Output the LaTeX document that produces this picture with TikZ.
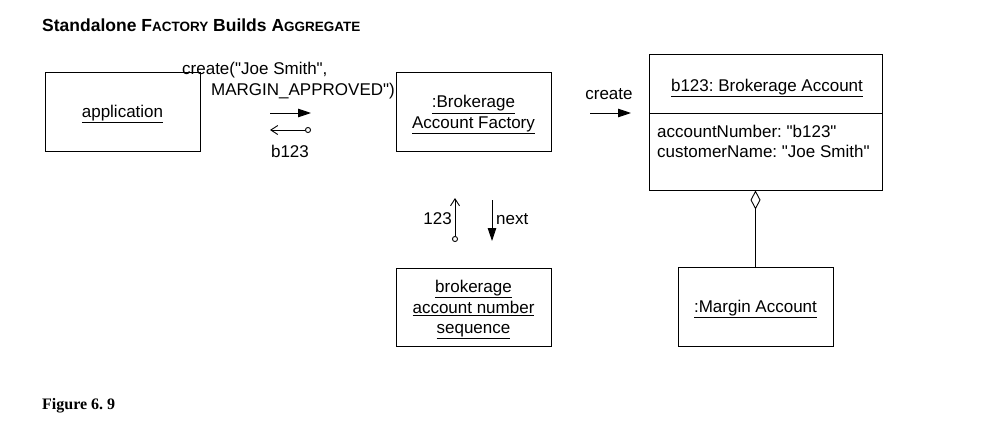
\documentclass[tikz,border=0pt]{standalone}
\usepackage{fontspec}
\setmainfont{Liberation Sans}[Ligatures=TeXOff]
\newfontfamily\serifbold{Liberation Serif}
\usetikzlibrary{arrows.meta}
\frenchspacing
\tikzset{
  obj/.style={draw, line width=0.9pt, minimum width=155pt, minimum height=79pt, align=center, font=\fontsize{17}{20.5}\selectfont, inner sep=0pt, text depth=0pt},
  lbl/.style={font=\fontsize{17}{20.5}\selectfont, inner sep=0pt},
  msg/.style={line width=0.9pt},
  fill tip/.style={-{Triangle[length=13pt,width=8.5pt]}},
  open tip/.style={{Circle[open,length=6pt]}-{Straight Barb[length=7pt,width=9pt]}},
}
\begin{document}
\begin{tikzpicture}[x=1pt,y=-1pt]
\useasboundingbox (0,0) rectangle (992,434);
% title
\node[anchor=base west, inner sep=0pt, font=\bfseries\fontsize{17.5}{20}\selectfont] (title) at (42,31)
  {Standalone F{\fontsize{13.5}{15}\selectfont ACTORY} Builds A{\fontsize{13.5}{15}\selectfont GGREGATE}};
% boxes
\node[obj] (app) at (122.5,111.5) {\underline{application}};
\node[obj] (fac) at (473.5,112) {\underline{:Brokerage}\\\underline{Account Factory}};
\node[obj, minimum height=78pt] (seq) at (473.5,307) {\underline{brokerage}\\\underline{account number}\\\underline{sequence}};
\node[obj] (marg) at (755.5,306.5) {\underline{:Margin Account}};
% brokerage account
\node[draw, line width=0.9pt, minimum width=233pt, minimum height=136pt, inner sep=0pt] (acc) at (765.5,122) {};
\coordinate (dl) at (649,113);
\coordinate (dr) at (882,113);
\draw[line width=0.9pt] (dl) -- (dr);
\node[lbl, text depth=0pt] (acctitle) at (767,85) {\underline{b123: Brokerage Account}};
\node[lbl, anchor=base west] (att1) at (657,137) {accountNumber: "b123"};
\node[lbl, anchor=base west] (att2) at (657,157) {customerName: "Joe Smith"};
% create message
\node[lbl, anchor=base west] (cr1) at (182,74) {create("Joe Smith",};
\node[lbl, anchor=base west] (cr2) at (211,95) {MARGIN\_APPROVED")};
\coordinate (a1s) at (270,113); \coordinate (a1e) at (311,113);
\draw[msg, fill tip] (a1s) -- (a1e);
\coordinate (a2s) at (311,130); \coordinate (a2e) at (270,130);
\draw[msg, open tip] (a2s) -- (a2e);
\node[lbl] (b123) at (290,151) {b123};
% create to account
\node[lbl] (cr3) at (609,94) {create};
\coordinate (a3s) at (590,113); \coordinate (a3e) at (631,113);
\draw[msg, fill tip] (a3s) -- (a3e);
% 123 / next
\coordinate (a4s) at (455,242); \coordinate (a4e) at (455,198);
\draw[msg, open tip] (a4s) -- (a4e);
\node[lbl, anchor=east] (n123) at (452,219) {123};
\coordinate (a5s) at (492,200); \coordinate (a5e) at (492,241);
\draw[msg, fill tip] (a5s) -- (a5e);
\node[lbl, anchor=west] (next) at (496,219) {next};
% aggregation
\draw[line width=0.9pt, {Diamond[open,length=19pt,width=10pt]}-] (acc.south -| marg.north) -- (marg.north);
% figure caption
\node[anchor=base west, inner sep=0pt, font=\serifbold\bfseries\fontsize{16}{18}\selectfont] (fig) at (42,409) {Figure 6.~9};
\end{tikzpicture}
\end{document}
